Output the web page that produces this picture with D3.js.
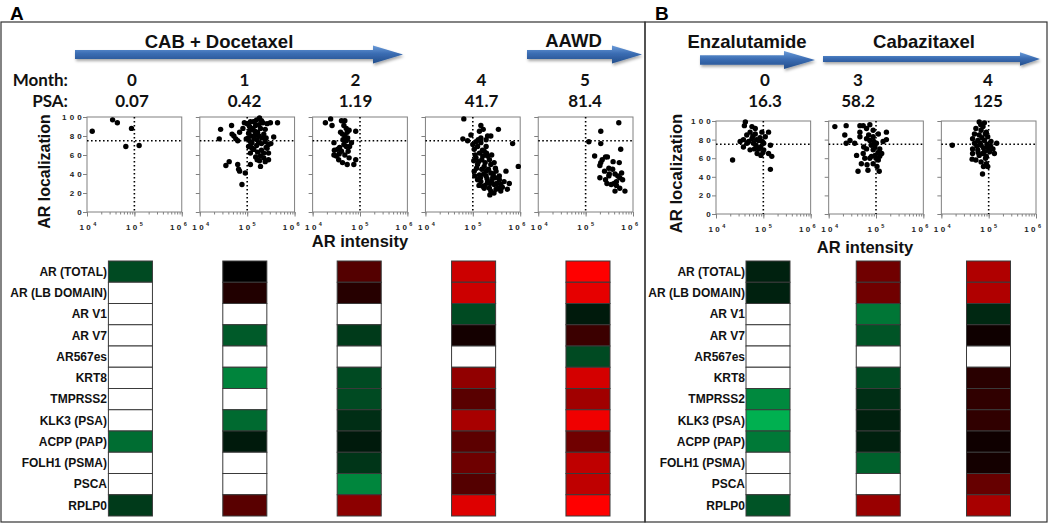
<!DOCTYPE html>
<html><head><meta charset="utf-8">
<script src="https://cdn.jsdelivr.net/npm/d3@7"></script>
<style>body{margin:0;background:#fff}svg{display:block}</style>
</head><body>
<svg id="c" width="1050" height="524"></svg>
<script>
// ---------------- DATA ----------------
const genes = ["AR (TOTAL)","AR (LB DOMAIN)","AR V1","AR V7","AR567es","KRT8","TMPRSS2","KLK3 (PSA)","ACPP (PAP)","FOLH1 (PSMA)","PSCA","RPLP0"];
const monthsA = ["0","1","2","4","5"];
const psaA = ["0.07","0.42","1.19","41.7","81.4"];
const monthsB = ["0","3","4"];
const psaB = ["16.3","58.2","125"];
const therapiesA = ["CAB + Docetaxel","AAWD"];
const therapiesB = ["Enzalutamide","Cabazitaxel"];
const yTicks = [0,20,40,60,80,100];
const xMajorTicks = [10,100,1000];          // AR intensity, thousands (10^4, 10^5, 10^6)
const locThreshold = 75;
const intThreshold = 100;                    // thousands (10^5)

// scatter points: [AR intensity (thousands), AR localization]
const cellsA0 = [[12.9,85],[34.7,97],[43.7,94],[87,88],[66,69],[126,70]];
const cellsA1 = [[27.5,87],[25.7,77],[46.8,91],[47.9,82],[57.5,77],[63.1,75],[69.2,84],[81.3,88],[87.1,94],[100,93],[117,95],[138,95],[182,99],[214,94],[263,93],[309,94],[437,94],[363,79],[240,87],[191,88],[107,83],[126,87],[148,81],[95.5,77],[117,74],[162,76],[204,78],[240,74],[282,71],[263,67],[224,62],[282,62],[191,59],[240,53],[162,55],[138,66],[107,69],[117,62],[191,48],[117,50],[91.2,41],[77.6,29],[69.2,43],[63.1,50],[41.7,53],[35.5,49],[66,45],[112,90],[132,88],[151,91],[166,84],[120,80],[141,77],[178,80],[200,72],[158,70],[126,73],[132,66],[166,63],[151,58],[200,65],[224,82],[251,78],[141,95],[178,92],[105,78],[115,86],[158,97],[200,96],[224,57],[282,55],[251,68],[316,72],[182,54],[145,85],[174,73],[123,68],[52.5,80]];
const cellsA2 = [[18.6,94],[24,98],[25.7,91],[40.7,96],[47.9,96],[45.7,91],[51.3,88],[38.9,84],[42.7,82],[47.9,80],[53.7,84],[58.9,86],[81.3,85],[43.7,76],[51.3,75],[28.2,73],[28.8,65],[28.2,60],[31.6,59],[36.3,61],[40.7,64],[47.9,60],[56.2,64],[60.3,69],[66.1,73],[51.3,69],[42.7,52],[53.7,50],[74.1,50],[81.3,55],[58.9,57],[37.2,68],[45.7,71],[33.9,66],[55,78],[35.5,55]];
const cellsA3 = [[64.6,98],[91.2,81],[61.7,77],[77.6,75],[148,91],[166,87],[138,85],[240,80],[347,87],[692,72],[912,48],[117,74],[148,73],[191,69],[107,66],[138,62],[174,64],[117,57],[155,55],[204,59],[126,50],[174,48],[240,50],[309,43],[501,43],[107,43],[138,39],[191,38],[263,36],[363,38],[148,32],[204,31],[282,29],[389,29],[537,24],[589,30],[389,22],[229,18],[174,25],[309,24],[457,32],[100,71],[126,69],[162,59],[224,55],[282,52],[191,43],[240,41],[126,34],[162,27],[224,25],[363,34],[148,78],[191,76],[112,60],[132,53],[155,45],[170,40],[200,35],[214,45],[229,30],[251,33],[120,46],[145,36],[182,52],[160,65],[195,62],[110,38],[135,28],[182,28],[270,40],[295,36],[320,30],[240,22],[280,20],[340,25],[420,26],[105,54],[130,76],[205,80],[250,60],[300,46]];
const cellsA4 = [[501,94],[209,85],[117,74],[209,72],[550,66],[155,59],[209,52],[263,58],[288,58],[380,53],[513,52],[200,49],[309,46],[372,45],[417,40],[200,36],[263,34],[309,38],[282,30],[347,29],[447,32],[525,36],[575,41],[603,34],[417,22],[525,25],[676,22],[447,28],[251,43],[316,40],[224,55],[398,30],[479,38]];
const cellsB0 = [[22.4,58],[41.7,99],[39.8,95],[32.4,78],[38,80],[44.7,85],[52.5,88],[67.6,92],[57.5,81],[49,78],[61.7,76],[79.4,79],[67.6,86],[93.3,88],[129,88],[110,83],[87.1,72],[52.5,69],[74.1,65],[102,69],[129,65],[102,76],[141,74],[151,62],[141,48],[89.1,63],[57.5,94],[38,72],[60,84],[72,80],[85,82],[95,78],[70,74],[80,70],[98,66],[65,70],[45,76]];
const cellsB1 = [[13.5,94],[23.4,95],[21.9,85],[23.4,76],[28.2,79],[35.5,76],[45.7,95],[53.7,95],[74.1,96],[63.1,92],[45.7,88],[87.1,90],[45.7,83],[63.1,81],[87.1,83],[112,86],[166,80],[141,78],[79.4,74],[102,76],[63.1,70],[87.1,69],[120,70],[132,65],[95.5,63],[74.1,60],[112,58],[38.9,63],[53.7,65],[49,54],[64.6,53],[87.1,54],[41.7,46],[67.6,47],[105,51],[117,46],[166,88],[74.1,79],[95,72],[110,66],[80,62],[100,60],[70,85],[55,72],[120,62],[90,78],[58,60]];
const cellsB2 = [[17,74],[63.1,99],[81.3,98],[75.9,94],[53.7,92],[69.2,90],[89.1,88],[50.1,86],[63.1,85],[95.5,83],[45.7,81],[58.9,79],[81.3,79],[112,78],[148,76],[50.1,76],[69.2,74],[95.5,72],[123,70],[45.7,70],[58.9,69],[81.3,67],[105,67],[45.7,65],[63.1,63],[89.1,62],[44.7,59],[53.7,58],[69.2,56],[89.1,54],[77.6,51],[95.5,51],[74.1,43],[132,65],[72,82],[85,86],[66,76],[78,71],[92,75],[56,73],[100,69],[86,60],[60,66],[110,73],[75,65],[68,96]];

// heatmap: relative expression (-1 green .. 0 black .. +1 red), null = not detected (white)
const heatA0 = [-0.42,null,null,null,null,null,null,null,-0.62,null,null,-0.33];
const heatA1 = [0.0,0.13,null,-0.51,null,-0.75,null,-0.6,-0.15,null,null,0.35];
const heatA2 = [0.33,0.15,null,-0.33,null,-0.42,-0.42,-0.26,-0.15,-0.3,-0.76,0.55];
const heatA3 = [0.8,0.8,-0.42,0.08,null,0.57,0.35,0.66,0.36,0.43,0.33,0.87];
const heatA4 = [1.0,0.9,-0.15,0.23,-0.42,0.83,0.63,0.94,0.44,0.75,0.75,1.0];
const heatB0 = [-0.19,-0.19,null,null,null,null,-0.78,-1.0,-0.69,null,null,-0.48];
const heatB1 = [0.44,0.44,-0.67,-0.48,null,-0.42,-0.26,-0.18,-0.18,-0.55,null,0.6];
const heatB2 = [0.69,0.69,-0.23,0.06,null,0.16,0.19,0.19,0.06,0.08,0.4,0.66];

// ---------------- LAYOUT ----------------
const SANS = "'Liberation Sans', Arial, sans-serif";
const HDR = "Lato, 'Liberation Sans', sans-serif";
const svg = d3.select("#c");
const defs = svg.append("defs");
const grad = defs.append("linearGradient").attr("id","blueGrad").attr("x1",0).attr("y1",0).attr("x2",0).attr("y2",1);
grad.append("stop").attr("offset","0%").attr("stop-color","#6b9bd9");
grad.append("stop").attr("offset","45%").attr("stop-color","#3b6db3");
grad.append("stop").attr("offset","100%").attr("stop-color","#234e8c");
const flt = defs.append("filter").attr("id","shadow").attr("x","-5%").attr("y","-60%").attr("width","112%").attr("height","240%");
flt.append("feDropShadow").attr("dx",1).attr("dy",2).attr("stdDeviation",1.4).attr("flood-color","#000").attr("flood-opacity",0.35);

const heatColor = d3.scaleLinear().domain([-1,0,1]).range(["#00b050","#000000","#ff0000"]);

// panel frames and letters
svg.append("rect").attr("x",1).attr("y",22).attr("width",644).attr("height",500).attr("fill","none").attr("stroke","#333").attr("stroke-width",1.2);
svg.append("rect").attr("x",645).attr("y",22).attr("width",402).attr("height",500).attr("fill","none").attr("stroke","#333").attr("stroke-width",1.2);
svg.append("text").attr("x",10).attr("y",19.5).text("A").attr("font-family",SANS).attr("font-weight","bold").attr("font-size",19);
svg.append("text").attr("x",655).attr("y",19.5).text("B").attr("font-family",SANS).attr("font-weight","bold").attr("font-size",19);

function arrow(x0, x1, yc, shaftH, headH, headLen) {
  const p = d3.path();
  p.moveTo(x0, yc - shaftH/2);
  p.lineTo(x1 - headLen, yc - shaftH/2);
  p.lineTo(x1 - headLen, yc - headH/2);
  p.lineTo(x1, yc);
  p.lineTo(x1 - headLen, yc + headH/2);
  p.lineTo(x1 - headLen, yc + shaftH/2);
  p.lineTo(x0, yc + shaftH/2);
  p.closePath();
  svg.append("path").attr("d", p.toString()).attr("fill","url(#blueGrad)").attr("filter","url(#shadow)");
}
function label(txt, x, y) {
  svg.append("text").attr("x",x).attr("y",y).attr("text-anchor","middle").text(txt)
    .attr("font-family",SANS).attr("font-weight","bold").attr("font-size",18.5).attr("fill","#111");
}
arrow(75, 403, 54.5, 9, 18, 30);
arrow(527, 642, 54.5, 9, 18, 30);
arrow(700, 815, 60, 9.5, 18, 31);
arrow(823, 1040, 59, 6, 13.5, 20);
label(therapiesA[0], 219, 48);
label(therapiesA[1], 573.5, 47);
label(therapiesB[0], 747, 48);
label(therapiesB[1], 924, 48);

// header rows
function hdr(txt, x, y, anchor) {
  svg.append("text").attr("x",x).attr("y",y).attr("text-anchor",anchor||"middle").text(txt)
    .attr("font-family",HDR).attr("font-weight","bold").attr("font-size",17).attr("fill","#111");
}
hdr("Month:", 68, 86, "end");
hdr("PSA:", 68, 107, "end");
const headerXA = d3.scaleOrdinal().domain(monthsA).range([132,244.5,355.5,481.5,585]);
const headerXB = d3.scaleOrdinal().domain(monthsB).range([765,858,988]);
monthsA.forEach((m,i)=>{ hdr(m, headerXA(m), 86); hdr(psaA[i], headerXA(m), 107); });
monthsB.forEach((m,i)=>{ hdr(m, headerXB(m), 86); hdr(psaB[i], headerXB(m), 107); });

// scatter plots
function scatter(data, left, width, top, bottom, showY) {
  const g = svg.append("g");
  const x = d3.scaleLog().domain([10,1000]).range([left, left+width]);
  const y = d3.scaleLinear().domain([0,100]).range([bottom, top]);
  g.append("rect").attr("x",left).attr("y",top).attr("width",width).attr("height",bottom-top)
    .attr("fill","none").attr("stroke","#808080").attr("stroke-width",1);
  const ya = g.append("g").attr("transform",`translate(${left},0)`)
    .call(d3.axisLeft(y).tickValues(yTicks).tickSize(4).tickPadding(1).tickFormat(showY ? d3.format("d") : ""));
  ya.select(".domain").remove();
  ya.selectAll("line").attr("stroke","#808080");
  ya.selectAll("text").attr("font-family",SANS).attr("font-weight","bold").attr("font-size",8)
    .attr("letter-spacing",3.2).attr("dx",3).attr("fill","#222");
  const xminor = g.append("g").attr("transform",`translate(0,${bottom})`)
    .call(d3.axisBottom(x).tickValues(x.ticks()).tickSize(2.5).tickFormat(""));
  xminor.select(".domain").remove();
  xminor.selectAll("line").attr("stroke","#808080");
  const xmajor = g.append("g").attr("transform",`translate(0,${bottom})`)
    .call(d3.axisBottom(x).tickValues(xMajorTicks).tickSize(4.5).tickFormat(""));
  xmajor.select(".domain").remove();
  xmajor.selectAll("line").attr("stroke","#808080");
  const xl = g.append("g").selectAll("text").data(xMajorTicks).join("text")
    .attr("x", d => x(d)).attr("y", bottom + 17.5)
    .attr("text-anchor", (d,i) => i === 0 ? "start" : (i === xMajorTicks.length-1 ? "end" : "middle"))
    .attr("dx", (d,i) => i === 0 ? -7.5 : (i === xMajorTicks.length-1 ? 5 : 0))
    .attr("font-family",SANS).attr("font-weight","bold").attr("font-size",8).attr("letter-spacing",2.4).attr("fill","#222");
  xl.append("tspan").text("10");
  xl.append("tspan").attr("dy",-3.5).attr("font-size",5.5).attr("letter-spacing",0).text(d => Math.round(Math.log10(d*1000)));
  g.append("line").attr("x1",left).attr("x2",left+width).attr("y1",y(locThreshold)).attr("y2",y(locThreshold))
    .attr("stroke","#000").attr("stroke-width",1.6).attr("stroke-dasharray","1.6,2.4");
  g.append("line").attr("x1",x(intThreshold)).attr("x2",x(intThreshold)).attr("y1",top).attr("y2",bottom)
    .attr("stroke","#000").attr("stroke-width",1.6).attr("stroke-dasharray","1.6,2.4");
  g.append("g").selectAll("circle").data(data).join("circle")
    .attr("cx", d => x(d[0])).attr("cy", d => y(d[1])).attr("r",2.7).attr("fill","#000");
}
const plotXA = d3.scaleBand().domain(monthsA).range([87, 633]).paddingInner(0.16);
const plotXB = d3.scaleBand().domain(monthsB).range([716, 1036]).paddingInner(0.16);
const cellsA = [cellsA0, cellsA1, cellsA2, cellsA3, cellsA4];
const cellsB = [cellsB0, cellsB1, cellsB2];
monthsA.forEach((m,i)=> scatter(cellsA[i], plotXA(m), plotXA.bandwidth(), 117, 212, i===0));
monthsB.forEach((m,i)=> scatter(cellsB[i], plotXB(m), plotXB.bandwidth(), 121, 214, i===0));

// axis titles
function title(txt, x, y, size, rot) {
  const t = svg.append("text").attr("text-anchor","middle").text(txt)
    .attr("font-family",SANS).attr("font-weight","bold").attr("font-size",size).attr("fill","#111");
  if (rot) t.attr("transform",`translate(${x},${y}) rotate(-90)`); else t.attr("x",x).attr("y",y);
}
title("AR localization", 50, 171.5, 16, true);
title("AR intensity", 360, 247, 16.5, false);
title("AR localization", 682, 173.5, 16.7, true);
title("AR intensity", 865, 253, 16.5, false);

// heatmaps
const rowY = d3.scaleBand().domain(genes).range([261, 516]);
function heat(cols, domain, xs, labelX) {
  const g = svg.append("g");
  g.selectAll("text").data(genes).join("text")
    .attr("x",labelX).attr("y", d => rowY(d) + rowY.bandwidth()/2 + 4.2).attr("text-anchor","end").text(d=>d)
    .attr("font-family",SANS).attr("font-weight","bold").attr("font-size",12).attr("fill","#111");
  domain.forEach((m,ci) => {
    g.append("g").selectAll("rect").data(cols[ci]).join("rect")
      .attr("x", xs(m)).attr("width", xs.bandwidth())
      .attr("y", (d,ri) => rowY(genes[ri])).attr("height", rowY.bandwidth())
      .attr("fill", d => d == null ? "#ffffff" : heatColor(d))
      .attr("stroke","#3a3a3a").attr("stroke-width",1);
  });
}
const heatXA = d3.scaleBand().domain(monthsA).range([108.4, 610]).paddingInner(0.615);
const heatXB = d3.scaleBand().domain(monthsB).range([746, 1010.5]).paddingInner(0.601);
heat([heatA0,heatA1,heatA2,heatA3,heatA4], monthsA, heatXA, 107);
heat([heatB0,heatB1,heatB2], monthsB, heatXB, 745);
</script>
</body></html>
